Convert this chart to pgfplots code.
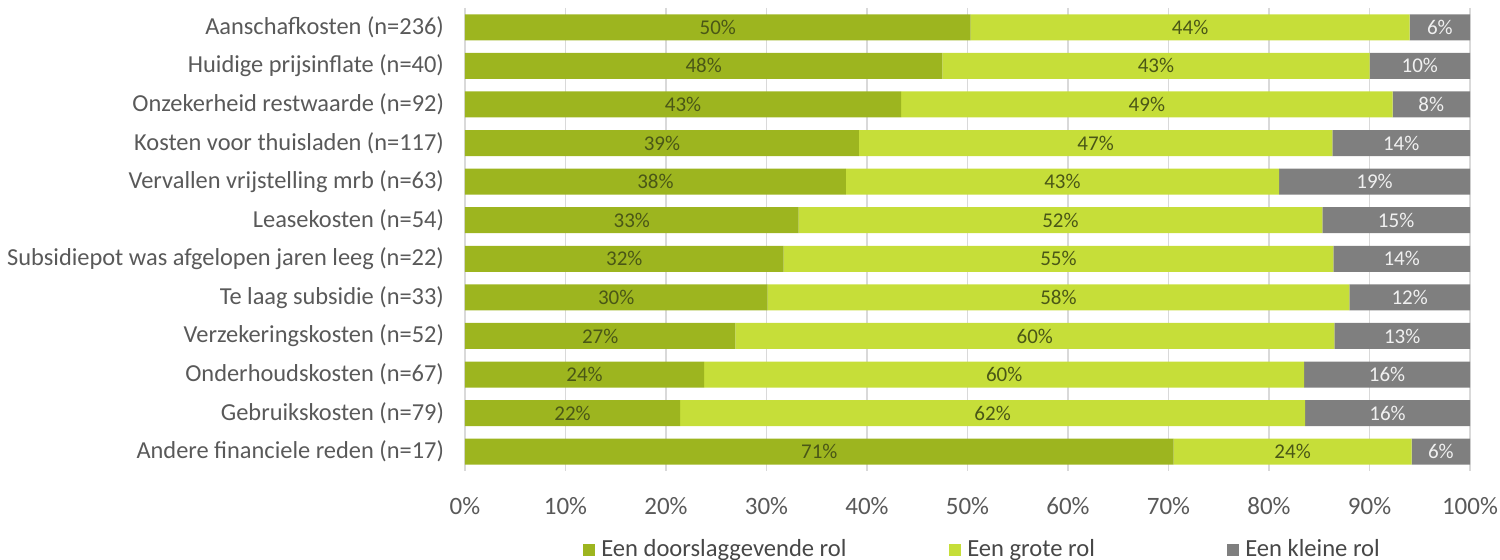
\documentclass[border=0pt]{standalone}
\usepackage{fontspec}
\setmainfont{Carlito}
\usepackage{pgfplots}
\pgfplotsset{compat=1.18}

\definecolor{dgreen}{HTML}{9DB51F}
\definecolor{lgreen}{HTML}{C6DE39}
\definecolor{kgray}{HTML}{7F7F7F}
\definecolor{txtgray}{HTML}{595959}
\definecolor{lblgreen}{HTML}{4A5716}

\begin{document}
\begin{tikzpicture}
\useasboundingbox (0,0) rectangle (750pt,280pt);
\begin{axis}[
    at={(232.5pt,44.5pt)}, anchor=south west,
    scale only axis, width=502.5pt, height=231.5pt,
    xbar stacked, bar width=13pt,
    xmin=0, xmax=100, ymin=-0.5, ymax=11.5, y dir=reverse,
    ytick={0,...,11},
    yticklabels={Aanschafkosten (n=236), Huidige prijsinflate (n=40), Onzekerheid restwaarde (n=92), Kosten voor thuisladen (n=117), Vervallen vrijstelling mrb (n=63), Leasekosten (n=54), Subsidiepot was afgelopen jaren leeg (n=22), Te laag subsidie (n=33), Verzekeringskosten (n=52), Onderhoudskosten (n=67), Gebruikskosten (n=79), Andere financiele reden (n=17)},
    xtick={0,10,...,100},
    xticklabels={0\%,10\%,20\%,30\%,40\%,50\%,60\%,70\%,80\%,90\%,100\%},
    tick label style={text=txtgray},
    yticklabel style={font=\fontsize{12.2}{14}\selectfont, xshift=-7pt},
    xticklabel style={font=\fontsize{12.5}{14}\selectfont, yshift=-9.5pt},
    major tick length=0pt,
    axis line style={draw=none},
    xmajorgrids, grid style={draw=black!15, line width=0.6pt},
    point meta=explicit symbolic,
    nodes near coords,
    every node near coord/.append style={font=\fontsize{10.5}{12}\selectfont},
    legend columns=3,
    legend style={at={(0.516,-0.17)}, anchor=center, draw=none, fill=none,
        font=\fontsize{12.3}{14}\selectfont, text=black!72,
        /tikz/every odd column/.append style={column sep=1pt}},
    legend image code/.code={\fill[#1] (0pt,-3pt) rectangle (6pt,3pt);},
]
\addplot[fill=dgreen, draw=none, nodes near coords style={text=lblgreen}] coordinates {
    (50.3,0) [50\%] (47.5,1) [48\%] (43.4,2) [43\%] (39.2,3) [39\%]
    (37.9,4) [38\%] (33.2,5) [33\%] (31.7,6) [32\%] (30.1,7) [30\%]
    (26.9,8) [27\%] (23.8,9) [24\%] (21.4,10) [22\%] (70.5,11) [71\%]};
\addlegendentry{\makebox[172pt][l]{Een doorslaggevende rol}}
\addplot[fill=lgreen, draw=none, nodes near coords style={text=lblgreen}] coordinates {
    (43.7,0) [44\%] (42.5,1) [43\%] (48.9,2) [49\%] (47.1,3) [47\%]
    (43.1,4) [43\%] (52.1,5) [52\%] (54.7,6) [55\%] (57.9,7) [58\%]
    (59.6,8) [60\%] (59.7,9) [60\%] (62.2,10) [62\%] (23.7,11) [24\%]};
\addlegendentry{\makebox[128pt][l]{Een grote rol}}
\addplot[fill=kgray, draw=none, nodes near coords style={text=white!94!black}] coordinates {
    (6.0,0) [6\%] (10.0,1) [10\%] (7.7,2) [8\%] (13.7,3) [14\%]
    (19.0,4) [19\%] (14.7,5) [15\%] (13.6,6) [14\%] (12.0,7) [12\%]
    (13.5,8) [13\%] (16.5,9) [16\%] (16.4,10) [16\%] (5.8,11) [6\%]};
\addlegendentry{Een kleine rol}
\end{axis}
\end{tikzpicture}
\end{document}
